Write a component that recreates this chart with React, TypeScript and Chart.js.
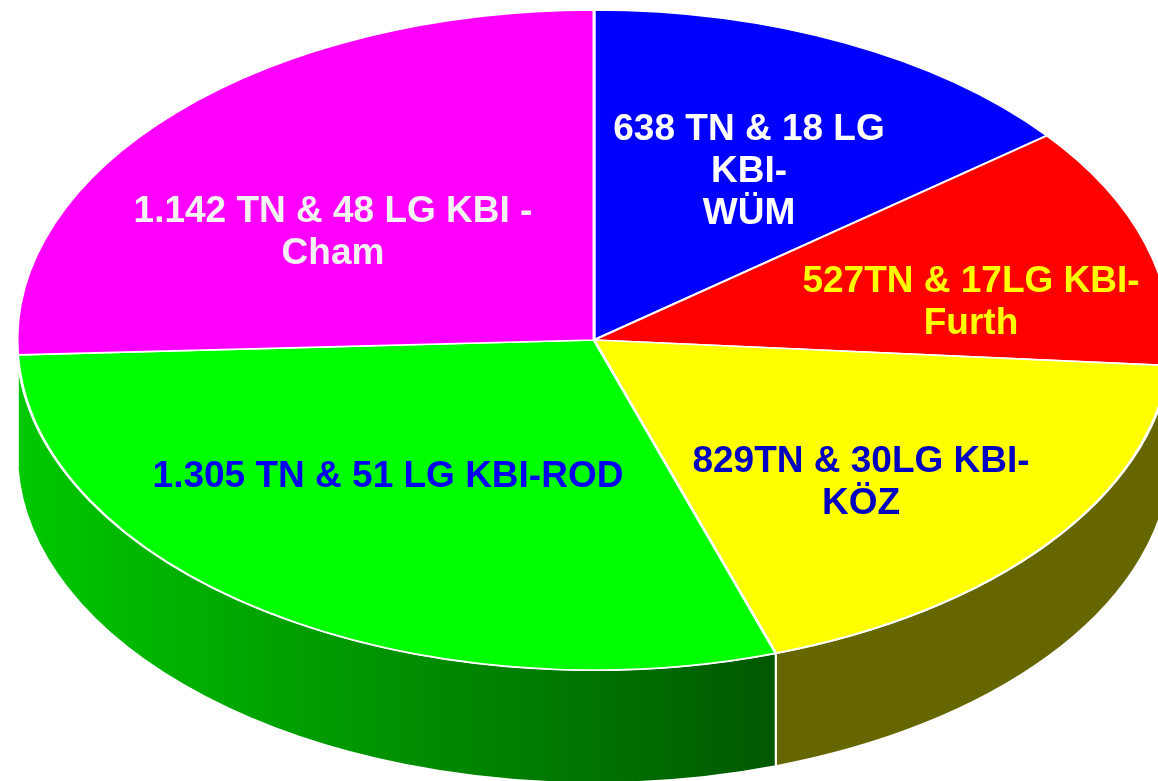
import React, { useEffect, useRef } from "react";
import { Chart, registerables } from "chart.js";

Chart.register(...registerables);

// ---- data ----
const categories = ["KBI-WÜM", "KBI-Furth", "KBI-KÖZ", "KBI-ROD", "KBI-Cham"];
const tnValues = [638, 527, 829, 1305, 1142];
const labelLines = [
  ["638 TN & 18 LG", "KBI-", "WÜM"],
  ["527TN & 17LG KBI-", "Furth"],
  ["829TN & 30LG KBI-", "KÖZ"],
  ["1.305 TN & 51 LG KBI-ROD"],
  ["1.142 TN & 48 LG KBI -", "Cham"],
];

// ---- styles ----
const topColors = ["#0000ff", "#ff0000", "#ffff00", "#00ff00", "#ff00ff"];
const sideColors = ["#00007f", "#7f0000", "#666600", "gradient", "#7f007f"];
const labelColors = ["#ffffff", "#ffff00", "#0000c0", "#0000f0", "#f2f2f2"];
const labelPos = [
  [749, 140],
  [971, 292],
  [861, 472],
  [388, 487],
  [333, 222],
];
const LINE_H = 42;
const CX = 594;
const CY = 340;
const RX = 577;
const RY = 330;
const DEPTH = 113;

const pie3d = {
  id: "pie3d",
  beforeDatasetsDraw(chart: any) {
    const ctx = chart.ctx as CanvasRenderingContext2D;
    const meta = chart.getDatasetMeta(0);
    const arcs = meta.data as any[];
    if (!arcs.length) return;
    // side walls (front half only)
    arcs.forEach((arc, i) => {
      const s = arc.startAngle;
      const e = arc.endAngle;
      const a1 = Math.max(s, 0);
      const a2 = Math.min(e, Math.PI);
      if (a2 <= a1) return;
      ctx.save();
      ctx.beginPath();
      ctx.ellipse(CX, CY, RX, RY, 0, a1, a2, false);
      ctx.lineTo(CX + RX * Math.cos(a2), CY + DEPTH + RY * Math.sin(a2));
      ctx.ellipse(CX, CY + DEPTH, RX, RY, 0, a2, a1, true);
      ctx.closePath();
      if (sideColors[i] === "gradient") {
        const xl = CX + RX * Math.cos(a2);
        const xr = CX + RX * Math.cos(a1);
        const g = ctx.createLinearGradient(xl, 0, xr, 0);
        g.addColorStop(0, "#00c800");
        g.addColorStop(1, "#005800");
        ctx.fillStyle = g;
      } else {
        ctx.fillStyle = sideColors[i];
      }
      ctx.fill();
      ctx.strokeStyle = "#ffffff";
      ctx.lineWidth = 2;
      ctx.stroke();
      ctx.restore();
    });
    // squash the pie into an ellipse
    const a0 = arcs[0];
    const R = a0.outerRadius;
    ctx.save();
    ctx.translate(CX, CY);
    ctx.scale(RX / R, RY / R);
    ctx.translate(-a0.x, -a0.y);
  },
  afterDatasetsDraw(chart: any) {
    const ctx = chart.ctx as CanvasRenderingContext2D;
    ctx.restore();
    ctx.save();
    ctx.font = 'bold 37px "Liberation Sans", Arial, sans-serif';
    ctx.textAlign = "center";
    ctx.textBaseline = "alphabetic";
    labelLines.forEach((lines, i) => {
      ctx.fillStyle = labelColors[i];
      lines.forEach((t, j) => {
        ctx.fillText(t, labelPos[i][0], labelPos[i][1] + j * LINE_H);
      });
    });
    ctx.restore();
  },
};

export default function App() {
  const ref = useRef<HTMLCanvasElement | null>(null);
  useEffect(() => {
    if (!ref.current) return;
    const chart = new Chart(ref.current, {
      type: "pie",
      data: {
        labels: categories,
        datasets: [
          {
            data: tnValues,
            backgroundColor: topColors,
            borderColor: "#ffffff",
            borderWidth: 2,
            clip: false,
          } as any,
        ],
      },
      options: {
        responsive: false,
        animation: false,
        events: [],
        layout: { padding: 0 },
        plugins: {
          legend: { display: false },
          tooltip: { enabled: false },
        },
      },
      plugins: [pie3d],
    });
    return () => chart.destroy();
  }, []);
  return (
    <div
      style={{
        position: "absolute",
        left: 0,
        top: 0,
        width: 1158,
        height: 781,
        background: "#ffffff",
        overflow: "hidden",
      }}
    >
      <canvas ref={ref} width={1158} height={781} style={{ display: "block" }} />
    </div>
  );
}
